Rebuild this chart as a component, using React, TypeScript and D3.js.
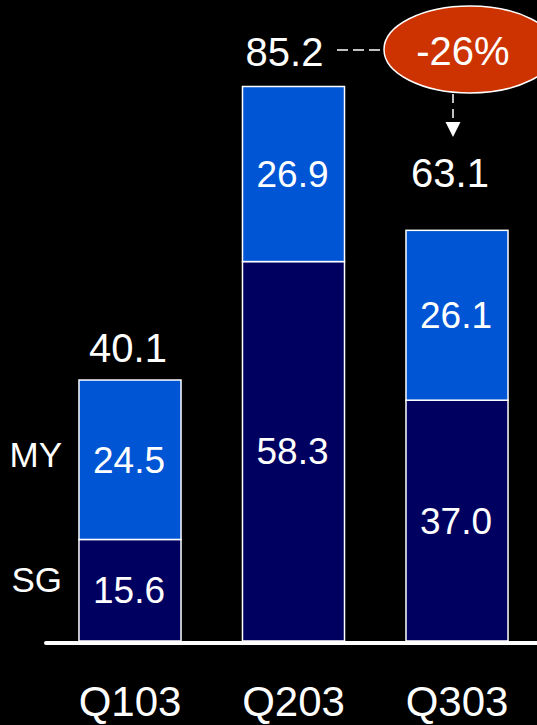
import React from "react";
import * as d3 from "d3";

const categories = ["Q103", "Q203", "Q303"];
const sgValues = [15.6, 58.3, 37.0];
const myValues = [24.5, 26.9, 26.1];
const totals = [40.1, 85.2, 63.1];
const seriesNames = ["SG", "MY"];
const changeLabel = "-26%";

const W = 537;
const H = 725;
const BASE_Y = 641;
const FONT = "'Liberation Sans', Arial, Helvetica, sans-serif";
const SG_COLOR = "#000060";
const MY_COLOR = "#0055d5";
const RED = "#cc3300";

export default function App() {
  const x = d3
    .scaleBand<string>()
    .domain(categories)
    .range([48.25, 538.75])
    .paddingInner(0.376)
    .paddingOuter(0.188);
  const y = d3.scaleLinear().domain([0, 85.2]).range([BASE_Y, 86.5]);

  const data = categories.map((c, i) => ({ c, sg: sgValues[i], my: myValues[i], total: totals[i] }));
  const stack = d3.stack<any>().keys(["sg", "my"])(data as any);

  const bw = x.bandwidth();
  const topOffsets = [18, 21, 43];
  const topDx = [-2, -9, -7];

  const ell = { cx: 470, cy: 49.5, rx: 86, ry: 43.5 };
  const arrowX = 453;

  return (
    <svg
      width={W}
      height={H}
      style={{ position: "absolute", left: 0, top: 0, background: "#000" }}
      fontFamily={FONT}
    >
      <rect x={0} y={0} width={W} height={H} fill="#000" />
      {stack.map((layer, li) =>
        layer.map((d, i) => {
          const x0 = x(categories[i]) as number;
          const yTop = y(d[1]);
          const yBot = y(d[0]);
          const val = li === 0 ? sgValues[i] : myValues[i];
          return (
            <g key={`${li}-${i}`}>
              <rect
                x={x0}
                y={yTop}
                width={bw}
                height={yBot - yTop}
                fill={li === 0 ? SG_COLOR : MY_COLOR}
                stroke="#fff"
                strokeWidth={1.5}
              />
              <text
                x={x0 + bw / 2 - 1}
                y={(yTop + yBot) / 2 + 13}
                fill="#fff"
                fontSize={37}
                textAnchor="middle"
              >
                {val.toFixed(1)}
              </text>
            </g>
          );
        })
      )}
      {totals.map((t, i) => (
        <text
          key={`t${i}`}
          x={(x(categories[i]) as number) + bw / 2 + topDx[i]}
          y={y(t) - topOffsets[i]}
          fill="#fff"
          fontSize={40}
          textAnchor="middle"
        >
          {t.toFixed(1)}
        </text>
      ))}
      <line x1={46} x2={W + 5} y1={643} y2={643} stroke="#fff" strokeWidth={4} strokeLinecap="round" />
      {categories.map((c) => (
        <text
          key={c}
          x={(x(c) as number) + bw / 2}
          y={716}
          fill="#fff"
          fontSize={42}
          textAnchor="middle"
        >
          {c}
        </text>
      ))}
      <text x={62} y={467} fill="#fff" fontSize={35} textAnchor="end">
        {seriesNames[1]}
      </text>
      <text x={62} y={592} fill="#fff" fontSize={35} textAnchor="end">
        {seriesNames[0]}
      </text>
      <line
        x1={337}
        x2={ell.cx - ell.rx}
        y1={50}
        y2={50}
        stroke="#fff"
        strokeWidth={1.5}
        strokeDasharray="11,5"
      />
      <ellipse cx={ell.cx} cy={ell.cy} rx={ell.rx} ry={ell.ry} fill={RED} stroke="#fff" strokeWidth={1.5} />
      <text x={463} y={65} fill="#fff" fontSize={40} textAnchor="middle">
        {changeLabel}
      </text>
      <line
        x1={arrowX}
        x2={arrowX}
        y1={ell.cy + ell.ry + 1}
        y2={123}
        stroke="#fff"
        strokeWidth={1.5}
        strokeDasharray="9,6"
      />
      <path d={`M${arrowX - 7.5},122 L${arrowX + 7.5},122 L${arrowX},137 Z`} fill="#fff" />
    </svg>
  );
}
